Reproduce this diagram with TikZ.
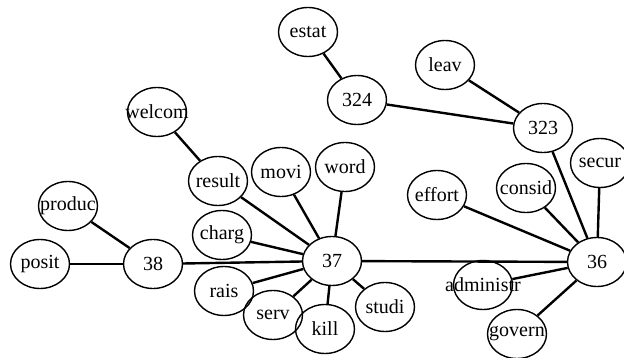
\documentclass[tikz,border=0pt]{standalone}
\usepackage{fontspec}
\setmainfont{Liberation Serif}
\usetikzlibrary{shapes.geometric}
\begin{document}
\begin{tikzpicture}[x=1pt,y=-1pt,
  nd/.style={ellipse,draw,line width=1.4pt,minimum width=59pt,minimum height=49pt,inner sep=0pt,font=\fontsize{20}{21}\selectfont},
  ed/.style={line width=2.4pt}]
\useasboundingbox (0,0) rectangle (624,358);
\newcommand{\nd}[3]{\node[nd] (#1) at (#2) {\makebox[0pt]{#3}};}
\nd{estat}{308,32}{estat}
\nd{n324}{357,100}{324}
\nd{leav}{445,65}{leav}
\nd{n323}{543,128}{323}
\nd{secur}{600,163}{secur}
\nd{consid}{526,188}{consid}
\nd{effort}{437,195}{effort}
\nd{n36}{597,262}{36}
\nd{administr}{483,285}{administr}
\nd{govern}{517,334}{govern}
\nd{n37}{332,261}{37}
\nd{studi}{385,307}{studi}
\nd{kill}{325,329}{kill}
\nd{serv}{273,315}{serv}
\nd{rais}{224,291}{rais}
\nd{charg}{222,235}{charg}
\nd{result}{218,181}{result}
\nd{movi}{281,172}{movi}
\nd{word}{345,167}{word}
\nd{welcom}{157,112}{welcom}
\nd{n38}{153,264}{38}
\nd{posit}{40,264}{posit}
\nd{produc}{68,206}{produc}
\foreach \a/\b in {estat/n324,n324/n323,leav/n323,n323/n36,secur/n36,consid/n36,effort/n36,n36/administr,n36/govern,n36/n37,n37/n38,n38/posit,n38/produc,n37/result,result/welcom,n37/movi,n37/word,n37/charg,n37/rais,n37/serv,n37/kill,n37/studi}
  \draw[ed] (\a) -- (\b);
\end{tikzpicture}
\end{document}
